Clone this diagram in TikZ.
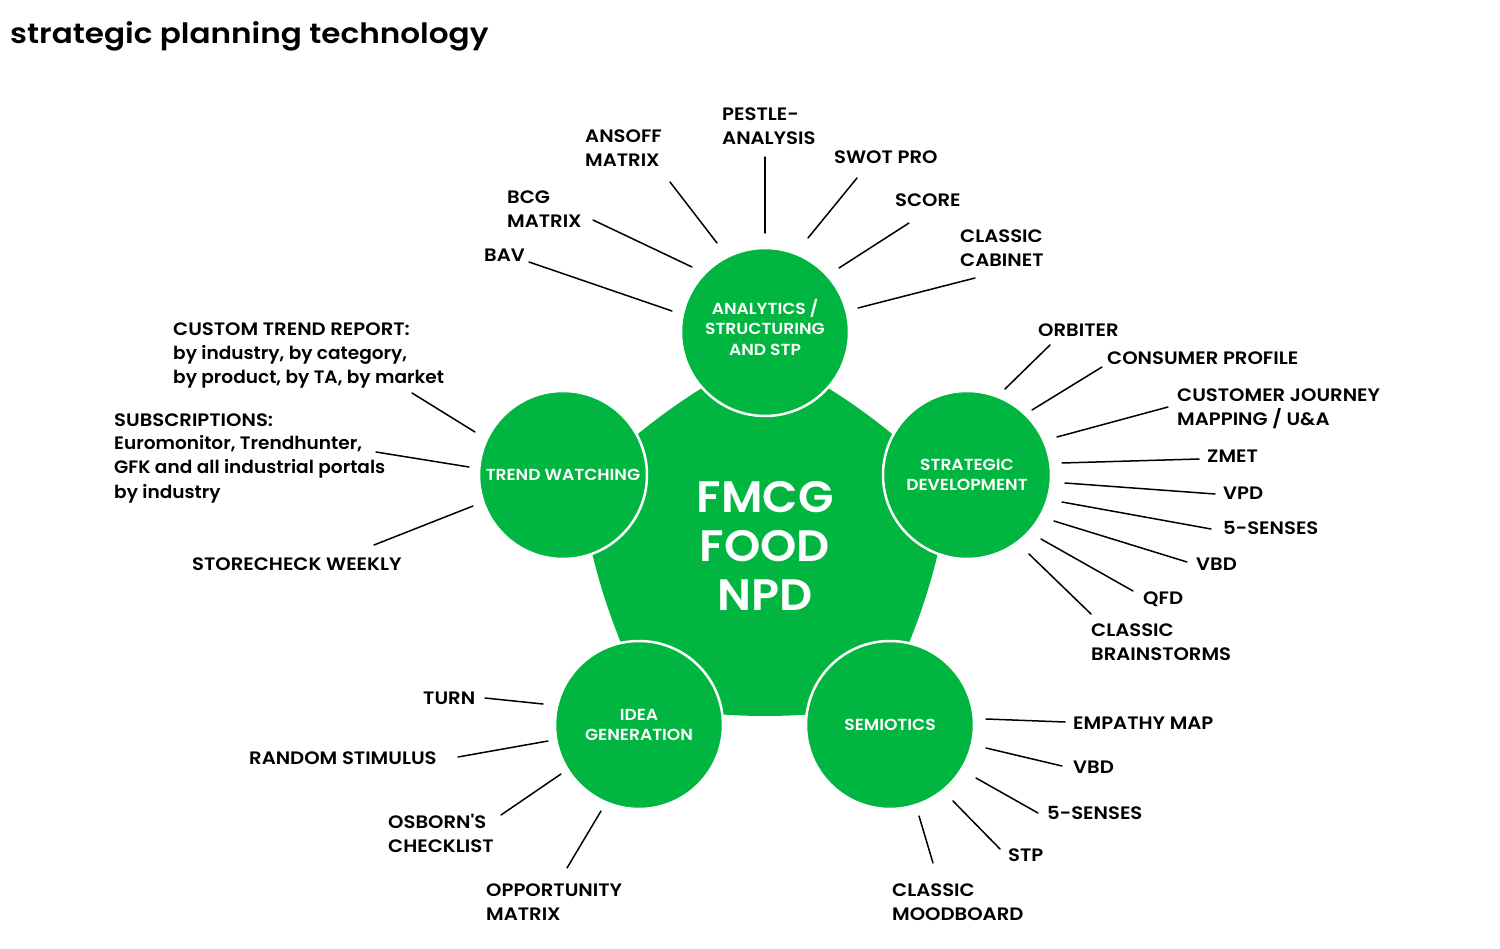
\documentclass[tikz,border=0pt]{standalone}
\usepackage{fontspec}
\setmainfont{Poppins}
\IfFontExistsTF{Poppins SemiBold}{%
  \newfontfamily\capf{Poppins SemiBold}[FakeStretch=1.09]
  \newfontfamily\lowf{Poppins SemiBold}[FakeStretch=1.03]
  \newfontfamily\hubf{Poppins SemiBold}[FakeStretch=1.07]
  \newfontfamily\coref{Poppins SemiBold}[FakeStretch=1.05]
  \newfontfamily\titf{Poppins SemiBold}[FakeStretch=1.11]
}{%
  \newfontfamily\capf{Poppins}[FakeStretch=1.1,FakeBold=1.5]
  \newfontfamily\lowf{Poppins}[FakeStretch=1.05,FakeBold=1.5]
  \newfontfamily\hubf{Poppins}[FakeStretch=1.08,FakeBold=2]
  \newfontfamily\coref{Poppins}[FakeStretch=1.06,FakeBold=2]
  \newfontfamily\titf{Poppins}[FakeStretch=1.12,FakeBold=2]
}
\definecolor{fmgreen}{RGB}{0,182,64}
\tikzset{
  hub/.style={circle, fill=fmgreen, draw=white, line width=2.5pt, minimum size=168pt, inner sep=0pt,
    text=white, align=center, font=\hubf\fontsize{16}{20.5}\selectfont},
  lbl/.style={anchor=base west, inner sep=0pt, align=left, font=\capf\fontsize{18}{24}\selectfont},
  conn/.style={line width=1.5pt, black, line cap=round},
}
\begin{document}
\begin{tikzpicture}[x=1pt,y=-1pt]
\useasboundingbox (0,0) rectangle (1500,949);
% title
\node[anchor=base west, inner sep=0pt, font=\titf\fontsize{28}{32}\selectfont] (title) at (10,44) {strategic planning technology};
% central rounded pentagon
\coordinate (pc) at (765,548);
\coordinate (v1) at (765,352);
\coordinate (v2) at (951.4,487.4);
\coordinate (v3) at (880.2,706.6);
\coordinate (v4) at (649.8,706.6);
\coordinate (v5) at (578.6,487.4);
\fill[fmgreen] (v1) to[bend left=8] (v2) to[bend left=8] (v3) to[bend left=8] (v4) to[bend left=8] (v5) to[bend left=8] (v1) -- cycle;
\node[text=white, align=center, inner sep=0pt, font=\coref\fontsize{44}{49}\selectfont] (core) at (765,546) {FMCG\\FOOD\\NPD};
% hubs
\node[hub, text depth=10pt] (ana) at (765,332) {ANALYTICS /\\STRUCTURING\\AND STP};
\node[hub] (trend) at (563,475) {TREND WATCHING};
\node[hub] (strat) at (967,475) {STRATEGIC\\DEVELOPMENT};
\node[hub] (idea) at (639,725) {IDEA\\GENERATION};
\node[hub] (semi) at (890,725) {SEMIOTICS};

% ---------- analytics labels (anchor = baseline of last line)
\node[lbl] (bav) at (484,262) {BAV};
\node[lbl] (bcg) at (507,228) {BCG\\MATRIX};
\node[lbl] (ansoff) at (585,167) {ANSOFF\\MATRIX};
\node[lbl] (pestle) at (722,145) {PESTLE-\\ANALYSIS};
\node[lbl] (swot) at (834,164) {SWOT PRO};
\node[lbl] (score) at (895,207) {SCORE};
\node[lbl] (cabinet) at (960,267) {CLASSIC\\CABINET};
% ---------- strategic labels
\node[lbl] (orbiter) at (1038,337) {ORBITER};
\node[lbl] (consumer) at (1107,365) {CONSUMER PROFILE};
\node[lbl] (customer) at (1177,426) {CUSTOMER JOURNEY\\MAPPING / U\&A};
\node[lbl] (zmet) at (1207,463) {ZMET};
\node[lbl] (vpd) at (1223,500) {VPD};
\node[lbl] (senses) at (1223,534) {5-SENSES};
\node[lbl] (vbd) at (1196,570) {VBD};
\node[lbl] (qfd) at (1143,604) {QFD};
\node[lbl] (brain) at (1091,660) {CLASSIC\\BRAINSTORMS};
% ---------- trend labels
\node[lbl] (custom) at (173,384) {CUSTOM TREND REPORT:\\{\lowf by industry, by category,}\\{\lowf by product, by TA, by market}};
\node[lbl] (subs) at (114,498) {SUBSCRIPTIONS:\\{\lowf Euromonitor, Trendhunter,}\\{\lowf GFK and all industrial portals}\\{\lowf by industry}};
\node[lbl] (store) at (192,570) {STORECHECK WEEKLY};
% ---------- idea labels
\node[lbl] (turn) at (423,704) {TURN};
\node[lbl] (random) at (249,764) {RANDOM STIMULUS};
\node[lbl] (osborn) at (388,852) {OSBORN'S\\CHECKLIST};
\node[lbl] (opp) at (486,920) {OPPORTUNITY\\MATRIX};
% ---------- semiotics labels
\node[lbl] (empathy) at (1073,729) {EMPATHY MAP};
\node[lbl] (svbd) at (1073,773) {VBD};
\node[lbl] (ssenses) at (1047,819) {5-SENSES};
\node[lbl] (stp) at (1008,861) {STP};
\node[lbl] (mood) at (892,920) {CLASSIC\\MOODBOARD};

% ---------- connector end points
\coordinate (bavo) at (529,262);   \coordinate (bavi) at (672,311);
\coordinate (bcgo) at (593,220);   \coordinate (bcgi) at (692,267);
\coordinate (anso) at (670,182);   \coordinate (ansi) at (717,243);
\coordinate (peso) at (765,157);   \coordinate (pesi) at (765,233);
\coordinate (swoo) at (857,178);   \coordinate (swoi) at (808,238);
\coordinate (scoo) at (909,223);   \coordinate (scoi) at (839,268);
\coordinate (cabo) at (975,278);   \coordinate (cabi) at (858,308);
\coordinate (orbo) at (1050,345);  \coordinate (orbi) at (1005,389);
\coordinate (cono) at (1102,367);  \coordinate (coni) at (1032,410);
\coordinate (cuso) at (1168,407);  \coordinate (cusi) at (1057,437);
\coordinate (zmeo) at (1199,459);  \coordinate (zmei) at (1062,463);
\coordinate (vpdo) at (1215,494);  \coordinate (vpdi) at (1065,483);
\coordinate (seno) at (1211,529);  \coordinate (seni) at (1062,502);
\coordinate (vbdo) at (1187,562);  \coordinate (vbdi) at (1054,521);
\coordinate (qfdo) at (1133,591);  \coordinate (qfdi) at (1041,539);
\coordinate (brao) at (1091,614);  \coordinate (brai) at (1029,554);
\coordinate (ctro) at (412,393);   \coordinate (ctri) at (475,432);
\coordinate (subo) at (376,452);   \coordinate (subi) at (469,467);
\coordinate (stoo) at (374,545);   \coordinate (stoi) at (473,506);
\coordinate (turo) at (485,698);   \coordinate (turi) at (543,704);
\coordinate (rano) at (458,757);   \coordinate (rani) at (548,741);
\coordinate (osbo) at (501,815);   \coordinate (osbi) at (561,774);
\coordinate (oppo) at (567,868);   \coordinate (oppi) at (601,811);
\coordinate (empo) at (1065,722);  \coordinate (empi) at (986,719);
\coordinate (svbo) at (1062,766);  \coordinate (svbi) at (986,748);
\coordinate (ss5o) at (1038,813);  \coordinate (ss5i) at (976,778);
\coordinate (stpo) at (1000,849);  \coordinate (stpi) at (953,801);
\coordinate (mooo) at (933,863);   \coordinate (mooi) at (919,816);

\foreach \a in {bav,bcg,ans,pes,swo,sco,cab,orb,con,cus,zme,vpd,sen,vbd,qfd,bra,ctr,sub,sto,tur,ran,osb,opp,emp,svb,ss5,stp,moo}
  \draw[conn] (\a o) -- (\a i);
\end{tikzpicture}
\end{document}
